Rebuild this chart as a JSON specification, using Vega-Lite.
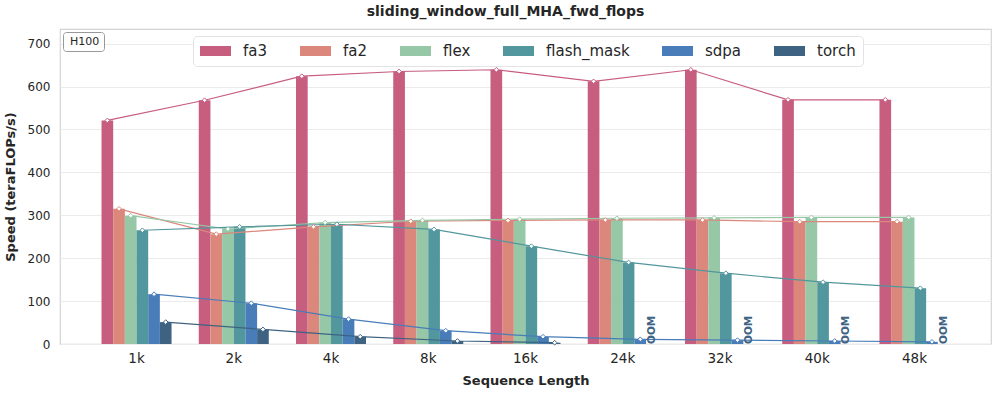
{
  "$schema": "https://vega.github.io/schema/vega-lite/v6.json",
  "autosize": {"type": "none"},
  "width": 931,
  "height": 315,
  "padding": {"left": 60, "top": 29, "right": 6, "bottom": 50},
  "background": "white",
  "config": {
    "font": "DejaVu Sans",
    "view": {"stroke": "#d4d4d4", "strokeWidth": 1.2},
    "axis": {"labelFont": "DejaVu Sans", "titleFont": "DejaVu Sans", "labelColor": "#262626", "titleColor": "#262626", "domain": false, "ticks": false}
  },
  "title": {"text": "sliding_window_full_MHA_fwd_flops", "font": "DejaVu Sans", "fontSize": 14, "fontWeight": "bold", "color": "#262626", "anchor": "middle", "dx": -20, "offset": 10},
  "datasets": {
    "speeds": [
      {"seq": "1k", "impl": "fa3", "speed": 521}, {"seq": "2k", "impl": "fa3", "speed": 568}, {"seq": "4k", "impl": "fa3", "speed": 624},
      {"seq": "8k", "impl": "fa3", "speed": 635}, {"seq": "16k", "impl": "fa3", "speed": 639}, {"seq": "24k", "impl": "fa3", "speed": 612},
      {"seq": "32k", "impl": "fa3", "speed": 639}, {"seq": "40k", "impl": "fa3", "speed": 569}, {"seq": "48k", "impl": "fa3", "speed": 569},
      {"seq": "1k", "impl": "fa2", "speed": 315}, {"seq": "2k", "impl": "fa2", "speed": 256}, {"seq": "4k", "impl": "fa2", "speed": 273},
      {"seq": "8k", "impl": "fa2", "speed": 286}, {"seq": "16k", "impl": "fa2", "speed": 288}, {"seq": "24k", "impl": "fa2", "speed": 289},
      {"seq": "32k", "impl": "fa2", "speed": 289}, {"seq": "40k", "impl": "fa2", "speed": 285}, {"seq": "48k", "impl": "fa2", "speed": 285},
      {"seq": "1k", "impl": "flex", "speed": 299}, {"seq": "2k", "impl": "flex", "speed": 268}, {"seq": "4k", "impl": "flex", "speed": 283},
      {"seq": "8k", "impl": "flex", "speed": 288}, {"seq": "16k", "impl": "flex", "speed": 291}, {"seq": "24k", "impl": "flex", "speed": 293},
      {"seq": "32k", "impl": "flex", "speed": 294}, {"seq": "40k", "impl": "flex", "speed": 295}, {"seq": "48k", "impl": "flex", "speed": 295},
      {"seq": "1k", "impl": "flash_mask", "speed": 265}, {"seq": "2k", "impl": "flash_mask", "speed": 273}, {"seq": "4k", "impl": "flash_mask", "speed": 279},
      {"seq": "8k", "impl": "flash_mask", "speed": 267}, {"seq": "16k", "impl": "flash_mask", "speed": 228}, {"seq": "24k", "impl": "flash_mask", "speed": 190},
      {"seq": "32k", "impl": "flash_mask", "speed": 165}, {"seq": "40k", "impl": "flash_mask", "speed": 144}, {"seq": "48k", "impl": "flash_mask", "speed": 130},
      {"seq": "1k", "impl": "sdpa", "speed": 116}, {"seq": "2k", "impl": "sdpa", "speed": 95}, {"seq": "4k", "impl": "sdpa", "speed": 58},
      {"seq": "8k", "impl": "sdpa", "speed": 31}, {"seq": "16k", "impl": "sdpa", "speed": 17}, {"seq": "24k", "impl": "sdpa", "speed": 11},
      {"seq": "32k", "impl": "sdpa", "speed": 9}, {"seq": "40k", "impl": "sdpa", "speed": 7}, {"seq": "48k", "impl": "sdpa", "speed": 5},
      {"seq": "1k", "impl": "torch", "speed": 51}, {"seq": "2k", "impl": "torch", "speed": 34}, {"seq": "4k", "impl": "torch", "speed": 17},
      {"seq": "8k", "impl": "torch", "speed": 7}, {"seq": "16k", "impl": "torch", "speed": 3}
    ],
    "oom": [
      {"seq": "24k", "impl": "torch", "label": "OOM"},
      {"seq": "32k", "impl": "torch", "label": "OOM"},
      {"seq": "40k", "impl": "torch", "label": "OOM"},
      {"seq": "48k", "impl": "torch", "label": "OOM"}
    ],
    "gpu": [
      {"seq": "1k", "impl": "fa3", "gpu": "H100"}
    ]
  },
  "layer": [
    {
      "data": {"name": "speeds"},
      "mark": {"type": "bar", "opacity": 1},
      "encoding": {
        "x": {
          "field": "seq", "type": "nominal",
          "sort": ["1k", "2k", "4k", "8k", "16k", "24k", "32k", "40k", "48k"],
          "scale": {"paddingInner": 0.28, "paddingOuter": 0.427},
          "axis": {"title": "Sequence Length", "labelAngle": 0, "labelFontSize": 13.5, "labelPadding": 7, "titleFontSize": 13, "titleFontWeight": "bold", "titlePadding": 10, "grid": false}
        },
        "xOffset": {
          "field": "impl", "type": "nominal",
          "sort": ["fa3", "fa2", "flex", "flash_mask", "sdpa", "torch"],
          "scale": {"domain": ["fa3", "fa2", "flex", "flash_mask", "sdpa", "torch"], "paddingInner": 0, "paddingOuter": 0}
        },
        "y": {
          "field": "speed", "type": "quantitative",
          "scale": {"domain": [0, 734], "nice": false},
          "axis": {"title": "Speed (teraFLOPs/s)", "values": [0, 100, 200, 300, 400, 500, 600, 700], "labelFontSize": 12, "labelPadding": 10, "titleFontSize": 13, "titleFontWeight": "bold", "titlePadding": 10, "grid": true, "gridColor": "#ebebeb", "gridWidth": 1}
        },
        "color": {
          "field": "impl", "type": "nominal",
          "scale": {"domain": ["fa3", "fa2", "flex", "flash_mask", "sdpa", "torch"], "range": ["#c75d7f", "#db877c", "#96c8a7", "#52979d", "#487db9", "#3e6382"]},
          "legend": {
            "title": null, "orient": "none", "direction": "horizontal", "columns": 6,
            "legendX": 133, "legendY": 7,
            "symbolType": "M-1.9375,-0.625h3.875v1.25h-3.875z", "symbolSize": 256, "symbolStrokeWidth": 0, "symbolOpacity": 1, "symbolOffset": 7.5,
            "labelFont": "DejaVu Sans", "labelFontSize": 15, "labelColor": "#262626", "labelOffset": 19.5,
            "columnPadding": 32, "padding": 7, "strokeColor": "#e3e3e3", "fillColor": "white", "cornerRadius": 4
          }
        }
      }
    },
    {
      "data": {"name": "speeds"},
      "mark": {"type": "line", "strokeWidth": 1.2},
      "encoding": {
        "x": {"field": "seq", "type": "nominal", "sort": ["1k", "2k", "4k", "8k", "16k", "24k", "32k", "40k", "48k"]},
        "xOffset": {"field": "impl", "type": "nominal", "sort": ["fa3", "fa2", "flex", "flash_mask", "sdpa", "torch"]},
        "y": {"field": "speed", "type": "quantitative"},
        "color": {"field": "impl", "type": "nominal"}
      }
    },
    {
      "data": {"name": "speeds"},
      "mark": {"type": "point", "shape": "diamond", "size": 22, "filled": false, "fill": "white", "fillOpacity": 1, "strokeWidth": 1, "opacity": 1},
      "encoding": {
        "x": {"field": "seq", "type": "nominal", "sort": ["1k", "2k", "4k", "8k", "16k", "24k", "32k", "40k", "48k"]},
        "xOffset": {"field": "impl", "type": "nominal", "sort": ["fa3", "fa2", "flex", "flash_mask", "sdpa", "torch"]},
        "y": {"field": "speed", "type": "quantitative"},
        "color": {"field": "impl", "type": "nominal"}
      }
    },
    {
      "data": {"name": "oom"},
      "mark": {"type": "text", "angle": 270, "align": "left", "baseline": "middle", "fontWeight": "bold", "fontSize": 10.5, "fill": "#3e6382"},
      "encoding": {
        "x": {"field": "seq", "type": "nominal", "sort": ["1k", "2k", "4k", "8k", "16k", "24k", "32k", "40k", "48k"]},
        "xOffset": {"field": "impl", "type": "nominal", "sort": ["fa3", "fa2", "flex", "flash_mask", "sdpa", "torch"]},
        "y": {"datum": 0},
        "text": {"field": "label", "type": "nominal"}
      }
    },
    {
      "data": {"name": "gpu"},
      "mark": {"type": "text", "text": ""},
      "encoding": {
        "x": {"field": "seq", "type": "nominal", "sort": ["1k", "2k", "4k", "8k", "16k", "24k", "32k", "40k", "48k"]},
        "y": {"datum": 0},
        "opacity": {
          "field": "gpu", "type": "nominal",
          "scale": {"domain": ["H100"], "range": [1, 1]},
          "legend": {"title": null, "orient": "top-left", "offset": 3, "symbolSize": 0.01, "symbolOpacity": 0, "symbolStrokeWidth": 0, "labelOffset": -8, "labelFont": "DejaVu Sans", "labelFontSize": 11, "labelColor": "#262626", "padding": 4, "strokeColor": "#999999", "cornerRadius": 3, "fillColor": "white"}
        }
      }
    }
  ]
}
